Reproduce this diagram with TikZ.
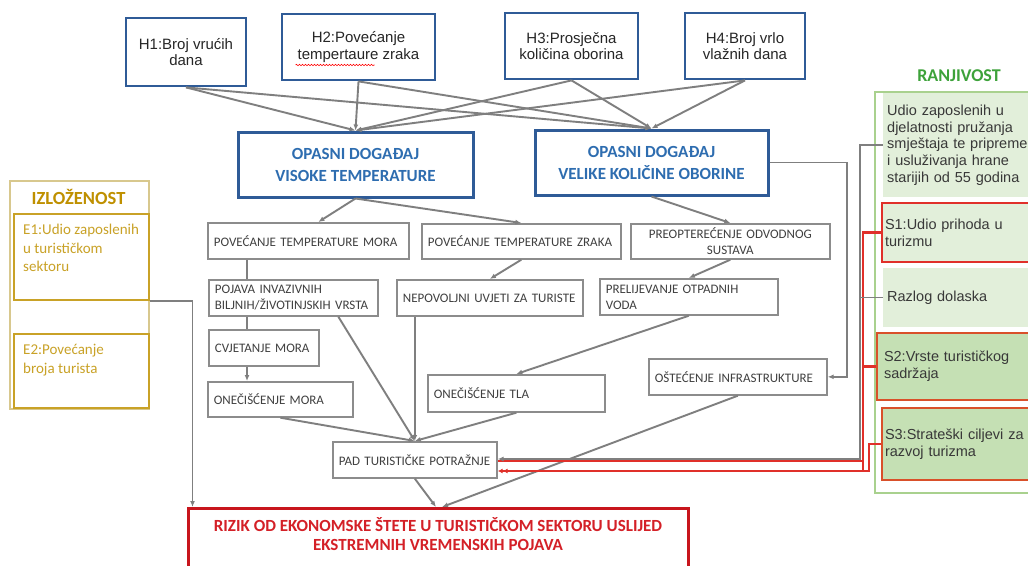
\documentclass[tikz,border=0pt]{standalone}
\usepackage{fontspec}
\setmainfont{Carlito}
\newfontfamily\arialf{Liberation Sans}
\usetikzlibrary{arrows.meta,decorations.pathmorphing}
\definecolor{hblue}{HTML}{2F5B97}
\definecolor{tblue}{HTML}{2E6DB0}
\definecolor{bgray}{HTML}{8C8C8C}
\definecolor{cgray}{HTML}{7F7F7F}
\definecolor{tgray}{HTML}{404040}
\definecolor{rred}{HTML}{C8161D}
\definecolor{rtext}{HTML}{D42027}
\definecolor{lred}{HTML}{E0302A}
\definecolor{ored}{HTML}{D9502A}
\definecolor{gold}{HTML}{C9A227}
\definecolor{dgold}{HTML}{BF9000}
\definecolor{lgold}{HTML}{D8C88E}
\definecolor{ggreen}{HTML}{3DA23A}
\definecolor{lgreen}{HTML}{A9D18E}
\definecolor{pgreen}{HTML}{E2EFDA}
\definecolor{mgreen}{HTML}{C5E0B4}
\begin{document}
\begin{tikzpicture}[x=1pt,y=-1pt,
  hbox/.style={draw=hblue, line width=2.8pt, fill=white, align=center, text=black!85,
    font=\arialf\fontsize{15}{16.5}\selectfont, inner sep=2pt},
  evbox/.style={draw=hblue, line width=3pt, fill=white, align=center, text=tblue,
    font=\bfseries\fontsize{17}{22}\selectfont, inner sep=2pt},
  sbox/.style={draw=bgray, line width=1.7pt, fill=white, text=tgray,
    font=\fontsize{13}{16}\selectfont, align=left, inner xsep=6pt, inner ysep=1pt, anchor=north west},
  vbox/.style={anchor=west, align=left, text=black!78, inner ysep=1pt,
    font=\arialf\fontsize{14.5}{16.7}\selectfont},
  con/.style={draw=cgray, line width=1.9pt, -{Latex[length=6pt,width=5pt]}},
  plain/.style={draw=cgray, line width=1.9pt},
  gcon/.style={draw=cgray, line width=1.5pt},
  rcon/.style={draw=lred, line width=2.2pt}
]
\useasboundingbox (0,0) rectangle (1028,565);
\fill[white] (0,0) rectangle (1028,565);
\clip (0,0) rectangle (1028,565);

% hazard boxes
\node[hbox, minimum width=120, minimum height=68] (H1) at (186,52) {H1:Broj vrućih\\dana};
\node[hbox, minimum width=153, minimum height=66] (H2) at (358.5,47) {H2:Povećanje\\tempertaure zraka};
\node[hbox, minimum width=133, minimum height=66] (H3) at (571.5,46) {H3:Prosječna\\količina oborina};
\node[hbox, minimum width=120, minimum height=66] (H4) at (745,46) {H4:Broj vrlo\\vlažnih dana};
\draw[red, line width=0.6pt, decorate, decoration={snake, amplitude=0.7pt, segment length=3pt}]
  ([xshift=-63pt,yshift=-18pt]H2.center) -- ([xshift=16pt,yshift=-18pt]H2.center);

% hazard events
\node[evbox, minimum width=235, minimum height=65] (VT) at (355.5,164.5) {OPASNI DOGAĐAJ\\VISOKE TEMPERATURE};
\node[evbox, minimum width=233, minimum height=65] (VKO) at (651.5,162.5) {OPASNI DOGAĐAJ\\VELIKE KOLIČINE OBORINE};

% small boxes
\node[sbox, minimum width=201, text width=189, minimum height=36] (PTM) at (207,222) {POVEĆANJE TEMPERATURE MORA};
\node[sbox, minimum width=199, text width=187, minimum height=35] (PTZ) at (421,223) {POVEĆANJE TEMPERATURE ZRAKA};
\node[sbox, minimum width=199, text width=187, minimum height=35, align=center] (PREOP) at (630,223) {PREOPTEREĆENJE ODVODNOG\\SUSTAVA};
\node[sbox, minimum width=169, text width=157, minimum height=36] (POJ) at (208,279) {POJAVA INVAZIVNIH\\BILJNIH/ŽIVOTINJSKIH VRSTA};
\node[sbox, minimum width=186, text width=174, minimum height=36] (NEP) at (396,279) {NEPOVOLJNI UVJETI ZA TURISTE};
\node[sbox, minimum width=178, text width=166, minimum height=36] (PREL) at (599,278) {PRELIJEVANJE OTPADNIH\\VODA};
\node[sbox, minimum width=110, text width=98, minimum height=36] (CVJ) at (208,329) {CVJETANJE MORA};
\node[sbox, minimum width=145, text width=133, minimum height=35] (ONM) at (207,381) {ONEČIŠĆENJE MORA};
\node[sbox, minimum width=177, text width=165, minimum height=37] (ONT) at (427,374) {ONEČIŠĆENJE TLA};
\node[sbox, minimum width=178, text width=166, minimum height=36] (OI) at (648,358) {OŠTEĆENJE INFRASTRUKTURE};
\node[sbox, minimum width=164, text width=152, minimum height=36] (PAD) at (332,441) {PAD TURISTIČKE POTRAŽNJE};

% risk box
\node[draw=rred, line width=3pt, minimum width=500, minimum height=90, anchor=north, inner sep=0] (RZ) at (438,507) {};
\node[align=center, text=rtext, font=\bfseries\fontsize{17}{18.5}\selectfont] (RZt) at (438,534)
  {RIZIK OD EKONOMSKE ŠTETE U TURISTIČKOM SEKTORU USLIJED\\EKSTREMNIH VREMENSKIH POJAVA};

% exposure
\node[draw=lgold, line width=1.5pt, minimum width=139, minimum height=228, anchor=north west, inner sep=0] (IZ) at (9,180) {};
\node[text=dgold, font=\bfseries\fontsize{18.5}{20}\selectfont] (IZt) at (78.5,197) {IZLOŽENOST};
\node[draw=gold, line width=2pt, minimum width=135, minimum height=86, anchor=north west, inner sep=0] (E1) at (13,213) {};
\node[anchor=north west, inner sep=0, align=left, text=gold, font=\fontsize{15}{18.5}\selectfont] (E1t) at (23,224)
  {E1:Udio zaposlenih\\u turističkom\\sektoru};
\node[draw=gold, line width=2pt, minimum width=135, minimum height=74, anchor=north west, inner sep=0] (E2) at (13,333) {};
\node[anchor=north west, inner sep=0, align=left, text=gold, font=\fontsize{15}{18.5}\selectfont] (E2t) at (23,344)
  {E2:Povećanje\\broja turista};

% vulnerability
\node[draw=lgreen, line width=1.5pt, fill=white, minimum width=170, minimum height=401, anchor=north west, inner sep=0] (RO) at (874,91) {};
\node[text=ggreen, font=\bfseries\fontsize{18}{20}\selectfont] (ROt) at (959,76) {RANJIVOST};
\node[vbox, fill=pgreen, minimum width=161, minimum height=104, inner xsep=4pt, text width=153] (V0) at (883,145)
  {Udio zaposlenih u\\djelatnosti pružanja\\smještaja te pripreme\\i usluživanja hrane\\starijih od 55 godina};
\node[vbox, fill=pgreen, draw=lred, line width=2pt, minimum width=163, minimum height=59, inner xsep=3pt, text width=157] (S1) at (881,232.5)
  {S1:Udio prihoda u\\turizmu};
\node[vbox, fill=pgreen, minimum width=161, minimum height=59, inner xsep=4pt, text width=153] (RD) at (883,297.5)
  {Razlog dolaska};
\node[vbox, fill=mgreen, draw=ored, line width=2pt, minimum width=168, minimum height=67, inner xsep=7pt, text width=154] (S2) at (876,366.5)
  {S2:Vrste turističkog\\sadržaja};
\node[vbox, fill=mgreen, draw=ored, line width=2pt, minimum width=163, minimum height=72, inner xsep=3pt, text width=157] (S3) at (881,444)
  {S3:Strateški ciljevi za\\razvoj turizma};

% connectors: hazards -> events
\foreach \h in {H1,H2,H3,H4}{
  \draw[con] (\h.south) -- (VT.north);
  \draw[con] (\h.south) -- (VKO.north);
}
\draw[con] (VT.south) -- ([xshift=10pt]PTM.north);
\draw[con] (VT.south) -- (PTZ.north);
\draw[con] (VKO.south) -- (PREOP.north);
\draw[con] (PTZ.south) -- (NEP.north);
\draw[con] (PREOP.south) -- (PREL.north);
\draw[con] (PREL.south) -- (ONT.north);
\coordinate (vx) at (247,0);
\draw[plain] (PTM.south -| vx) -- (POJ.north -| vx);
\draw[plain] (POJ.south -| vx) -- (CVJ.north -| vx);
\draw[con] (CVJ.south -| vx) -- (ONM.north -| vx);
\draw[con] (ONM.south) -- (PAD.north);
\draw[con] ([xshift=45pt]POJ.south) -- (PAD.north);
\draw[con] (NEP.south -| PAD.north) -- (PAD.north);
\draw[con] (ONT.south) -- (PAD.north);
\draw[con] (PAD.south) -- ([xshift=-2pt]RZ.north);
\draw[con] (OI.south) -- ([xshift=4pt]RZ.north);
\draw[con] (E1.south east) -| ([xshift=6pt]RZ.north west);
\draw[con] (VKO.east) -| ([xshift=19pt]OI.east) -- (OI.east);

% vulnerability connectors
\coordinate (gv) at (860,459);
\coordinate (rv) at (863,461);
\coordinate (rv2) at (869,471);
\draw[rcon] (S1.west) -| (rv) -- (PAD.east |- rv);
\draw[rcon] (S2.west) -- (S2.west -| rv);
\draw[rcon] (rv) -- (rv |- rv2);
\draw[rcon, -{Latex[length=5pt,width=5pt]Latex[length=5pt,width=5pt]}] (S3.west) -| (rv2) -- (PAD.east |- rv2);
\draw[gcon, -{Latex[length=6pt,width=5pt]}] (V0.west) -| (gv) -- (PAD.east |- gv);
\draw[gcon] (RD.west) -- (RD.west -| gv);
\end{tikzpicture}
\end{document}
